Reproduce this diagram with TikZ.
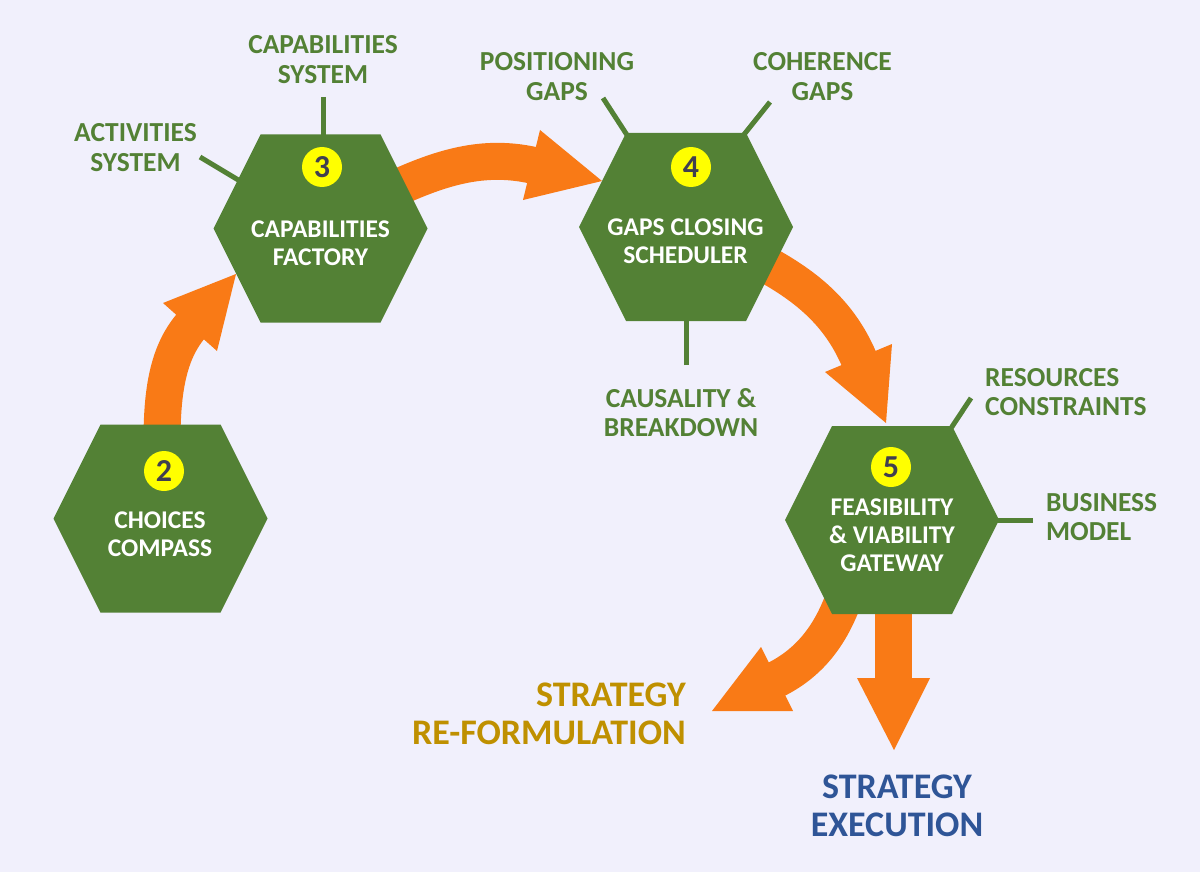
\documentclass[tikz,border=0pt]{standalone}
\usepackage{fontspec}
\setmainfont{Carlito}
\usetikzlibrary{calc}
\definecolor{bg}{HTML}{F1F0FC}
\definecolor{hexgreen}{HTML}{538135}
\definecolor{arrorange}{HTML}{F97A16}
\definecolor{goldtext}{HTML}{BF9000}
\definecolor{stratblue}{HTML}{2F5597}
\definecolor{digitgrey}{HTML}{403F50}
\definecolor{badge}{HTML}{FFFF00}
\newcommand\hexagonat[1]{\fill[hexgreen] ($(#1)+(-107,0)$) -- ($(#1)+(-60,-94)$) -- ($(#1)+(60,-94)$) -- ($(#1)+(107,0)$) -- ($(#1)+(60,94)$) -- ($(#1)+(-60,94)$) -- cycle;}
\tikzset{
  shaft/.style={draw=arrorange, line width=37pt},
  head/.style={fill=arrorange},
  stem/.style={draw=hexgreen, line width=5pt},
  badgestyle/.style={circle, fill=badge, minimum size=40pt, inner sep=0pt, text=digitgrey, font=\fontsize{32pt}{32pt}\selectfont\bfseries},
  hextext/.style={text=white, align=center, font=\fontsize{25.5pt}{28pt}\selectfont\bfseries, inner sep=0pt},
  lbl/.style={text=hexgreen, align=center, font=\fontsize{27.5pt}{29.5pt}\selectfont\bfseries, inner sep=0pt},
  outcome/.style={font=\fontsize{36pt}{38pt}\selectfont\bfseries, inner sep=0pt}
}
\begin{document}
\begin{tikzpicture}[x=1pt,y=-1pt]
\fill[bg] (0,0) rectangle (1200,872);
\useasboundingbox (0,0) rectangle (1200,872);

% hexagon centres
\coordinate (h2) at (160.5,518.5);
\coordinate (h3) at (320.5,228.5);
\coordinate (h4) at (686,227);
\coordinate (h5) at (892,520);

% block arrows
\draw[shaft] (162,440) .. controls (162,385) and (170,350) .. (192,324.7);
\fill[head] (163,303) -- (236,274) -- (217,351) -- cycle;

\draw[shaft] (392,190) .. controls (440,168) and (482.7,154) .. (533.5,165.4);
\fill[head] (540,130) -- (602,181) -- (523,200) -- cycle;

\draw[shaft] (760,261) .. controls (805,285) and (839,312) .. (859.3,359.8);
\fill[head] (892,344) -- (886,423) -- (825,372) -- cycle;

\draw[shaft] (845,595) .. controls (833,630) and (813,661.3) .. (775.2,679.9);
\fill[head] (761,647) -- (712,711) -- (793,711) -- cycle;

\draw[shaft] (893.5,600) -- (893.5,680);
\fill[head] (857,678) -- (894,750) -- (930,678) -- cycle;

% stems to labels
\coordinate (capsys) at (323,97);
\coordinate (actsys) at (200,157);
\coordinate (posgap) at (603,98);
\coordinate (cohgap) at (770,102);
\coordinate (causal) at (686,365);
\coordinate (rescon) at (971,398);
\coordinate (busmod) at (1033,520);
\draw[stem] (capsys) -- ($(h3)+(2.5,-92)$);
\draw[stem] (actsys) -- ($(h3)+(-80.5,-47.5)$);
\draw[stem] (posgap) -- ($(h4)+(-59,-92)$);
\draw[stem] (cohgap) -- ($(h4)+(58,-92.5)$);
\draw[stem] (causal) -- ($(h4)+(0,91)$);
\draw[stem] (rescon) -- ($(h5)+(59.5,-92.5)$);
\draw[stem] (busmod) -- ($(h5)+(104,0)$);

% hexagons
\hexagonat{h2}
\hexagonat{h3}
\hexagonat{h4}
\hexagonat{h5}

% badges
\node[badgestyle] (b2) at (164,471) {2};
\node[badgestyle] (b3) at (322,167) {3};
\node[badgestyle] (b4) at (691,167) {4};
\node[badgestyle] (b5) at (891,467) {5};

% hexagon texts
\node[hextext] (t2) at (160,534) {CHOICES\\COMPASS};
\node[hextext] (t3) at (320.5,243.5) {CAPABILITIES\\FACTORY};
\node[hextext] (t4) at (685.5,241) {GAPS CLOSING\\SCHEDULER};
\node[hextext] (t5) at (892,535) {FEASIBILITY\\\& VIABILITY\\GATEWAY};

% labels
\node[lbl] (l1) at (323,59.5) {CAPABILITIES\\SYSTEM};
\node[lbl] (l2) at (135.5,147.5) {ACTIVITIES\\SYSTEM};
\node[lbl] (l3) at (557,76.5) {POSITIONING\\GAPS};
\node[lbl] (l4) at (822.5,76.5) {COHERENCE\\GAPS};
\node[lbl] (l5) at (681,412.5) {CAUSALITY \&\\BREAKDOWN};
\node[lbl, align=left, anchor=west] (l6) at (985,392) {RESOURCES\\CONSTRAINTS};
\node[lbl, align=left, anchor=west] (l7) at (1046,517) {BUSINESS\\MODEL};

% outcomes
\node[outcome, text=goldtext, align=right, anchor=east] (o1) at (686,714) {STRATEGY\\RE-FORMULATION};
\node[outcome, text=stratblue, align=center] (o2) at (897,805.5) {STRATEGY\\EXECUTION};
\end{tikzpicture}
\end{document}
